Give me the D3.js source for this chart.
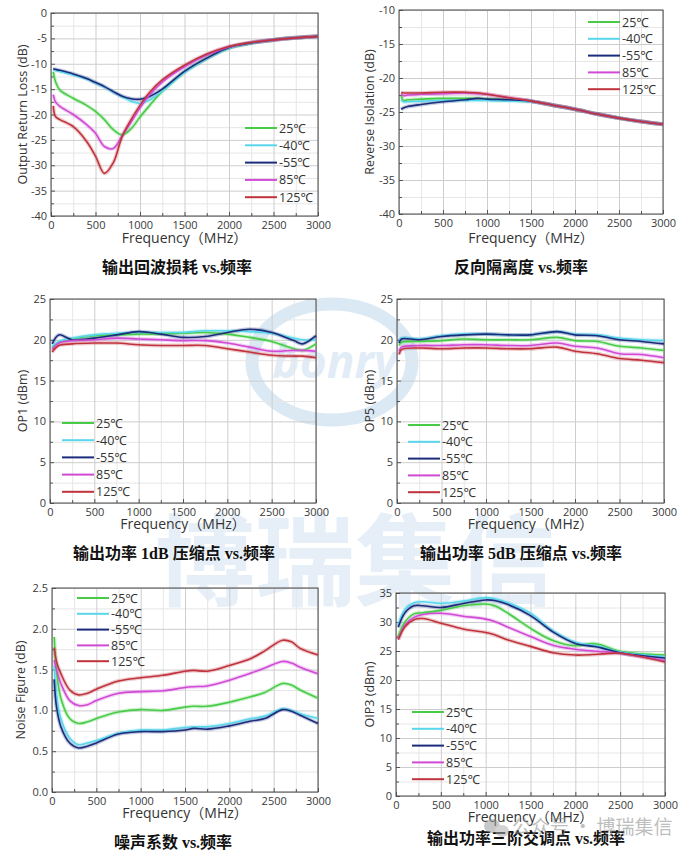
<!DOCTYPE html>
<html>
<head>
<meta charset="utf-8">
<script src="https://cdn.jsdelivr.net/npm/d3@7"></script>
<style>
body { margin: 0; background: #fff; }
svg { display: block; font-family: 'Open Sans', 'Noto Sans', 'Noto Sans CJK SC', sans-serif; }
</style>
</head>
<body>
<div id="chart"></div>
<script>
// Series labels and colours (same order in every panel)
const temperaturas = ["25℃", "-40℃", "-55℃", "85℃", "125℃"];
const colores = ["#48cc48", "#58d6ec", "#1b2c7c", "#d04ad6", "#c0323c"];

// Output return loss (dB)
const rlFreq = [25, 50, 100, 250, 400, 500, 600, 700, 800, 900, 1000, 1100, 1250, 1500, 1750, 2000, 2250, 2500, 2750, 3000];
const rl25  = [-11.6, -13.5, -15.2, -16.8, -18.2, -19.4, -21.0, -23.0, -24.0, -22.8, -20.5, -18.4, -15.4, -11.6, -8.9, -6.9, -5.9, -5.3, -4.9, -4.6];
const rlM40 = [-11.2, -11.3, -11.5, -12.2, -13.0, -13.8, -14.6, -15.6, -16.5, -17.4, -17.8, -17.2, -15.4, -11.7, -9.0, -6.9, -5.9, -5.3, -4.9, -4.6];
const rlM55 = [-11.0, -11.1, -11.3, -12.0, -12.9, -13.7, -14.5, -15.5, -16.4, -16.9, -17.0, -16.5, -15.0, -11.5, -8.9, -6.8, -5.9, -5.3, -4.9, -4.6];
const rl85  = [-16.1, -17.5, -18.4, -20.0, -22.0, -23.7, -26.3, -26.7, -24.2, -21.5, -18.7, -16.3, -13.6, -10.6, -8.3, -6.7, -5.8, -5.3, -4.9, -4.6];
const rl125 = [-18.3, -20.4, -21.0, -22.4, -25.3, -28.2, -31.6, -29.5, -24.3, -21.0, -18.2, -15.8, -13.2, -10.3, -8.1, -6.6, -5.8, -5.3, -4.9, -4.6];

// Reverse isolation (dB)
const riFreq = [25, 50, 100, 250, 500, 750, 900, 1000, 1250, 1500, 1750, 2000, 2250, 2500, 2750, 3000];
const ri25  = [-22.6, -23.3, -23.2, -23.1, -23.0, -23.0, -23.0, -23.1, -23.2, -23.4, -24.0, -24.6, -25.3, -25.9, -26.4, -26.8];
const riM40 = [-23.2, -23.5, -23.5, -23.4, -23.3, -23.3, -23.3, -23.3, -23.4, -23.5, -24.0, -24.6, -25.3, -25.9, -26.4, -26.8];
const riM55 = [-24.6, -24.4, -24.2, -23.9, -23.5, -23.2, -23.0, -23.1, -23.2, -23.4, -24.0, -24.6, -25.3, -25.9, -26.4, -26.8];
const ri85  = [-22.3, -22.6, -22.5, -22.4, -22.3, -22.2, -22.3, -22.4, -22.9, -23.4, -24.0, -24.6, -25.3, -25.9, -26.4, -26.8];
const ri125 = [-22.1, -22.2, -22.2, -22.2, -22.1, -22.1, -22.2, -22.4, -22.9, -23.4, -24.0, -24.6, -25.3, -25.9, -26.4, -26.8];

// OP1 (dBm)
const op1Freq = [25, 100, 250, 500, 750, 1000, 1250, 1500, 1750, 2000, 2250, 2500, 2750, 2850, 3000];
const op1_25  = [19.0, 19.7, 20.1, 20.5, 20.6, 20.7, 20.7, 20.8, 20.9, 20.7, 20.3, 19.8, 18.9, 18.7, 19.5];
const op1_M40 = [19.2, 19.8, 20.2, 20.6, 20.8, 20.9, 20.9, 20.9, 21.1, 21.1, 21.0, 20.8, 20.2, 20.0, 20.0];
const op1_M55 = [19.5, 20.6, 20.0, 20.2, 20.6, 21.0, 20.7, 20.3, 20.4, 20.9, 21.3, 20.9, 19.9, 19.5, 20.5];
const op1_85  = [18.8, 19.6, 19.9, 20.0, 20.2, 20.1, 20.0, 19.9, 19.9, 19.6, 19.1, 18.6, 18.7, 18.7, 18.6];
const op1_125 = [18.5, 19.3, 19.5, 19.6, 19.6, 19.4, 19.3, 19.3, 19.3, 18.9, 18.5, 18.1, 18.0, 18.0, 17.8];

// OP5 (dBm)
const op5Freq = [25, 50, 250, 500, 750, 1000, 1250, 1500, 1800, 2000, 2250, 2500, 2750, 3000];
const op5_25  = [19.3, 19.7, 19.8, 19.9, 20.1, 20.0, 20.0, 20.0, 20.3, 19.9, 19.8, 19.2, 19.0, 18.7];
const op5_M40 = [19.7, 20.2, 20.1, 20.5, 20.7, 20.7, 20.6, 20.6, 21.0, 20.7, 20.6, 20.2, 20.0, 19.9];
const op5_M55 = [19.6, 20.1, 20.0, 20.4, 20.6, 20.7, 20.6, 20.6, 21.0, 20.6, 20.5, 20.0, 19.8, 19.5];
const op5_85  = [18.6, 19.1, 19.3, 19.3, 19.4, 19.4, 19.3, 19.3, 19.6, 19.2, 19.0, 18.3, 18.2, 17.8];
const op5_125 = [18.2, 18.8, 19.0, 18.9, 19.0, 19.0, 18.9, 18.9, 19.1, 18.6, 18.3, 17.7, 17.5, 17.2];

// Noise figure (dB)
const nfFreq = [25, 50, 100, 200, 300, 400, 500, 750, 1000, 1250, 1500, 1600, 1750, 2000, 2250, 2400, 2600, 2700, 2800, 3000];
const nf25  = [1.90, 1.50, 1.15, 0.90, 0.84, 0.86, 0.90, 0.98, 1.01, 1.00, 1.04, 1.05, 1.05, 1.10, 1.17, 1.22, 1.33, 1.31, 1.25, 1.15];
const nfM40 = [1.55, 1.20, 0.90, 0.66, 0.58, 0.60, 0.63, 0.72, 0.76, 0.76, 0.79, 0.80, 0.80, 0.84, 0.90, 0.93, 1.02, 1.00, 0.96, 0.90];
const nfM55 = [1.38, 1.05, 0.80, 0.60, 0.54, 0.56, 0.60, 0.71, 0.74, 0.74, 0.76, 0.78, 0.77, 0.81, 0.87, 0.90, 1.01, 0.99, 0.94, 0.84];
const nf85  = [1.62, 1.50, 1.33, 1.12, 1.06, 1.07, 1.12, 1.21, 1.23, 1.24, 1.28, 1.29, 1.30, 1.37, 1.46, 1.52, 1.60, 1.58, 1.53, 1.45];
const nf125 = [1.77, 1.60, 1.45, 1.25, 1.19, 1.21, 1.26, 1.36, 1.40, 1.43, 1.48, 1.49, 1.48, 1.55, 1.64, 1.73, 1.86, 1.84, 1.76, 1.68];

// OIP3 (dBm)
const oipFreq = [25, 100, 200, 300, 500, 750, 1000, 1100, 1250, 1500, 1750, 2000, 2200, 2300, 2500, 3000];
const oip25  = [27.5, 30.0, 31.4, 31.6, 32.0, 32.8, 33.1, 32.8, 31.5, 28.9, 26.8, 25.9, 26.3, 26.0, 24.9, 24.3];
const oipM40 = [29.5, 32.2, 33.3, 33.5, 33.2, 33.6, 34.2, 34.0, 33.3, 31.5, 28.5, 26.5, 26.0, 25.7, 24.8, 24.0];
const oipM55 = [29.1, 31.6, 32.8, 32.8, 32.5, 33.2, 33.8, 33.7, 33.0, 31.1, 28.3, 26.3, 25.8, 25.5, 24.7, 23.8];
const oip85  = [27.0, 29.5, 30.8, 31.3, 31.5, 31.0, 30.5, 30.1, 29.1, 27.5, 26.0, 25.3, 25.0, 24.9, 24.6, 23.3];
const oip125 = [27.0, 29.2, 30.4, 30.6, 29.8, 28.8, 28.2, 27.8, 26.9, 25.8, 24.7, 24.3, 24.4, 24.5, 24.6, 23.1];

const paneles = [
    {left: 51, right: 318, top: 13, bottom: 216, yDomain: [-40, 0], yStep: 5, yFmt: d => d,
     yLabel: "Output Return Loss (dB)", yLabelX: 23, xLabelY: 243,
     title: "输出回波损耗 vs.频率", titleX: 177, titleY: 273,
     legX: 245, legY: 128, legDy: 17.3,
     freq: rlFreq, series: [rl25, rlM40, rlM55, rl85, rl125]},
    {left: 399, right: 663, top: 10, bottom: 214, yDomain: [-40, -10], yStep: 5, yFmt: d => d,
     yLabel: "Reverse Isolation (dB)", yLabelX: 370, xLabelY: 243,
     title: "反向隔离度 vs.频率", titleX: 521, titleY: 273,
     legX: 588, legY: 22, legDy: 16.8,
     freq: riFreq, series: [ri25, riM40, riM55, ri85, ri125]},
    {left: 50, right: 316, top: 299, bottom: 503, yDomain: [0, 25], yStep: 5, yFmt: d => d,
     yLabel: "OP1 (dBm)", yLabelX: 23, xLabelY: 529,
     title: "输出功率 1dB 压缩点 vs.频率", titleX: 174, titleY: 559,
     legX: 62, legY: 423, legDy: 17.2,
     freq: op1Freq, series: [op1_25, op1_M40, op1_M55, op1_85, op1_125]},
    {left: 397, right: 664, top: 299, bottom: 503, yDomain: [0, 25], yStep: 5, yFmt: d => d,
     yLabel: "OP5 (dBm)", yLabelX: 370, xLabelY: 529,
     title: "输出功率 5dB 压缩点 vs.频率", titleX: 521, titleY: 559,
     legX: 408, legY: 425, legDy: 16.8,
     freq: op5Freq, series: [op5_25, op5_M40, op5_M55, op5_85, op5_125]},
    {left: 52, right: 318, top: 588, bottom: 792, yDomain: [0, 2.5], yStep: 0.5, yFmt: d => d.toFixed(1),
     yLabel: "Noise Figure (dB)", yLabelX: 21, xLabelY: 818,
     title: "噪声系数 vs.频率", titleX: 173, titleY: 848,
     legX: 77, legY: 598, legDy: 15.8,
     freq: nfFreq, series: [nf25, nfM40, nfM55, nf85, nf125]},
    {left: 396, right: 665, top: 593, bottom: 796, yDomain: [0, 35], yStep: 5, yFmt: d => d,
     yLabel: "OIP3 (dBm)", yLabelX: 370, xLabelY: 822,
     title: "输出功率三阶交调点 vs.频率", titleX: 526, titleY: 844,
     legX: 412, legY: 712, legDy: 16.8,
     freq: oipFreq, series: [oip25, oipM40, oipM55, oip85, oip125]}
];

let svg = d3.select("#chart").append("svg")
    .attr("width", 691)
    .attr("height", 855);

// Marca de agua de fondo
let marca = svg.append("g").attr("id", "marca");
marca.append("ellipse")
    .attr("cx", 332).attr("cy", 362)
    .attr("rx", 80).attr("ry", 58)
    .attr("fill", "none")
    .attr("stroke", "#dae9f4")
    .attr("stroke-width", 13);
marca.append("text")
    .attr("x", 335).attr("y", 378)
    .attr("text-anchor", "middle")
    .attr("font-size", 46)
    .attr("font-weight", "bold")
    .attr("font-style", "italic")
    .attr("fill", "#e1ecf6")
    .text("bonry");
marca.append("text")
    .attr("x", 155).attr("y", 598)
    .attr("font-size", 100)
    .attr("font-weight", "bold")
    .attr("font-family", "'Noto Sans CJK SC', sans-serif")
    .attr("fill", "#e6eff7")
    .text("博瑞集信");

for (let i = 0; i < paneles.length; i++) {
    dibujarpanel(paneles[i]);
}

// Marca del pie
let pie = svg.append("g").attr("opacity", 0.55);
pie.append("ellipse").attr("cx", 492).attr("cy", 826).attr("rx", 8).attr("ry", 7).attr("fill", "#9a9a9a");
pie.append("ellipse").attr("cx", 502).attr("cy", 831).attr("rx", 7).attr("ry", 6).attr("fill", "#b0b0b0");
pie.append("text")
    .attr("x", 512).attr("y", 834)
    .attr("font-size", 19)
    .attr("font-family", "'Noto Sans CJK SC', sans-serif")
    .attr("fill", "#8a8a8a")
    .text("公众号 · 博瑞集信");

function dibujarpanel(cfg) {
    let x = d3.scaleLinear().domain([0, 3000]).range([cfg.left, cfg.right]);
    let y = d3.scaleLinear().domain(cfg.yDomain).range([cfg.bottom, cfg.top]);

    let nY = Math.round((cfg.yDomain[1] - cfg.yDomain[0]) / cfg.yStep);
    let yMajor = d3.range(nY + 1).map(i => cfg.yDomain[0] + i * cfg.yStep);
    let yMinor = d3.range(nY).map(i => cfg.yDomain[0] + (i + 0.5) * cfg.yStep);
    let xMajor = d3.range(0, 3001, 500);
    let xMinor = d3.range(250, 3000, 500);

    let g = svg.append("g");
    let alto = cfg.bottom - cfg.top;
    let ancho = cfg.right - cfg.left;

    // Rejilla secundaria y principal
    g.append("g")
        .attr("transform", "translate(0," + cfg.bottom + ")")
        .call(d3.axisBottom(x).tickValues(xMinor).tickSize(-alto).tickFormat(""))
        .call(a => a.select(".domain").remove())
        .selectAll("line").attr("stroke", "#e6e6e6");
    g.append("g")
        .attr("transform", "translate(" + cfg.left + ",0)")
        .call(d3.axisLeft(y).tickValues(yMinor).tickSize(-ancho).tickFormat(""))
        .call(a => a.select(".domain").remove())
        .selectAll("line").attr("stroke", "#e6e6e6");
    g.append("g")
        .attr("transform", "translate(0," + cfg.bottom + ")")
        .call(d3.axisBottom(x).tickValues(xMajor).tickSize(-alto).tickFormat(""))
        .call(a => a.select(".domain").remove())
        .selectAll("line").attr("stroke", "#cdcdcd");
    g.append("g")
        .attr("transform", "translate(" + cfg.left + ",0)")
        .call(d3.axisLeft(y).tickValues(yMajor).tickSize(-ancho).tickFormat(""))
        .call(a => a.select(".domain").remove())
        .selectAll("line").attr("stroke", "#cdcdcd");

    // Marcas menores hacia dentro
    g.append("g")
        .attr("transform", "translate(0," + cfg.bottom + ")")
        .call(d3.axisBottom(x).tickValues(xMinor).tickSize(-3).tickFormat(""))
        .call(a => a.select(".domain").remove())
        .selectAll("line").attr("stroke", "#555");
    g.append("g")
        .attr("transform", "translate(" + cfg.left + ",0)")
        .call(d3.axisLeft(y).tickValues(yMinor).tickSize(-3).tickFormat(""))
        .call(a => a.select(".domain").remove())
        .selectAll("line").attr("stroke", "#555");

    // Ejes con etiquetas
    let ejeX = g.append("g")
        .attr("transform", "translate(0," + cfg.bottom + ")")
        .call(d3.axisBottom(x).tickValues(xMajor).tickFormat(d => d).tickSizeInner(-4).tickSizeOuter(0).tickPadding(5));
    let ejeY = g.append("g")
        .attr("transform", "translate(" + cfg.left + ",0)")
        .call(d3.axisLeft(y).tickValues(yMajor).tickFormat(cfg.yFmt).tickSizeInner(-4).tickSizeOuter(0).tickPadding(4));
    [ejeX, ejeY].forEach(function (eje) {
        eje.select(".domain").remove();
        eje.selectAll("line").attr("stroke", "#555");
        eje.selectAll("text")
            .attr("fill", "#3a3a3a")
            .style("font-size", "11px")
            .style("font-family", "'Open Sans', sans-serif");
    });

    // Marco
    g.append("rect")
        .attr("x", cfg.left).attr("y", cfg.top)
        .attr("width", ancho).attr("height", alto)
        .attr("fill", "none")
        .attr("stroke", "#4a4a4a")
        .attr("stroke-width", 1);

    // Curvas
    let linea = d3.line()
        .x((d, i) => x(cfg.freq[i]))
        .y(d => y(d))
        .curve(d3.curveCatmullRom.alpha(0.5));

    for (let s = 0; s < cfg.series.length; s++) {
        g.append("path")
            .datum(cfg.series[s])
            .attr("d", linea)
            .attr("fill", "none")
            .attr("stroke", colores[s])
            .attr("stroke-opacity", 0.25)
            .attr("stroke-width", 4);
    }
    for (let s = 0; s < cfg.series.length; s++) {
        g.append("path")
            .datum(cfg.series[s])
            .attr("d", linea)
            .attr("fill", "none")
            .attr("stroke", colores[s])
            .attr("stroke-width", 1.6);
    }

    // Leyenda
    let leyenda = g.append("g")
        .selectAll("g")
        .data(temperaturas)
        .enter()
        .append("g")
        .attr("transform", (d, i) => "translate(" + cfg.legX + "," + (cfg.legY + i * cfg.legDy) + ")");
    leyenda.append("line")
        .attr("x1", 0).attr("x2", 32)
        .attr("stroke", (d, i) => colores[i])
        .attr("stroke-width", 2);
    leyenda.append("text")
        .attr("x", 34)
        .attr("dy", "0.36em")
        .attr("fill", "#333")
        .style("font-size", "12.5px")
        .text(d => d);

    // Títulos de ejes
    g.append("text")
        .attr("x", (cfg.left + cfg.right) / 2)
        .attr("y", cfg.xLabelY)
        .attr("text-anchor", "middle")
        .attr("fill", "#333")
        .style("font-size", "14px")
        .text("Frequency（MHz）");
    g.append("text")
        .attr("transform", "translate(" + cfg.yLabelX + "," + ((cfg.top + cfg.bottom) / 2) + ") rotate(-90)")
        .attr("text-anchor", "middle")
        .attr("dy", "0.35em")
        .attr("fill", "#333")
        .style("font-size", "12.5px")
        .text(cfg.yLabel);

    // Título del panel
    g.append("text")
        .attr("x", cfg.titleX)
        .attr("y", cfg.titleY)
        .attr("text-anchor", "middle")
        .attr("fill", "#111")
        .attr("font-weight", "bold")
        .style("font-size", "16px")
        .style("font-family", "'Liberation Serif', 'Noto Sans CJK SC', serif")
        .text(cfg.title);
}
</script>
</body>
</html>
